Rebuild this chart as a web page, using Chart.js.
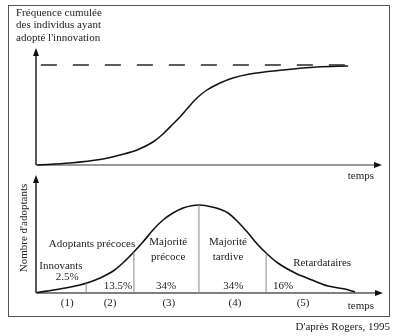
<!DOCTYPE html>
<html lang="fr">
<head>
<meta charset="utf-8">
<script src="https://cdn.jsdelivr.net/npm/chart.js@4"></script>
<style>
  body { margin: 0; background: #fff; }
  #wrap { position: relative; width: 400px; height: 336px; }
  #frame { position: absolute; left: 8px; top: 5px; width: 380px; height: 310px; border: 1.5px solid #555; }
  canvas { position: absolute; left: 0; top: 0; }
</style>
</head>
<body>
<div id="wrap">
  <div id="frame"></div>
  <canvas id="topChart" width="400" height="336"></canvas>
  <canvas id="bellChart" width="400" height="336"></canvas>
</div>
<script>
// courbe cumulée (en S)
const timeTop = [0.3, 9.8, 18.5, 24.3, 29.2, 33.8, 36.7, 39.6, 41.6, 43.6, 46.5, 49.4, 53.2, 56.9, 61.8, 71.4, 81.2, 90.2];
const cumulative = [0, 2, 5.5, 10, 15, 23, 31, 41, 48, 56, 67, 75, 82, 87, 91, 95, 98, 99];
const saturation = 100;
const saturationSpan = [1.4, 90.2];

// courbe en cloche des adoptants
const timeBell = [0.3, 6.9, 12.7, 15.6, 18.5, 22.3, 25.1, 28, 30.9, 33.8, 36.7, 39.6, 42.5, 45.4, 47.1, 50.9, 55.5, 58.4, 61.3, 64.2, 66.8, 69.9, 74.9, 79.8, 84.4, 89.3, 92.2];
const adopters = [0.5, 4, 8, 11, 15, 22, 30, 40, 51, 63, 73, 80, 85, 87.5, 88, 86, 80, 71, 60, 48, 39, 30, 20, 13, 7, 4, 1];

// limites des catégories
const dividerTimes = [14.5, 28.3, 47.1, 66.5];
const dividerHeights = [10, 41, 88, 40];

const shares = ['2.5%', '13.5%', '34%', '34%', '16%'];
const segmentNumbers = ['(1)', '(2)', '(3)', '(4)', '(5)'];

const FONT = '11px "Liberation Serif", "DejaVu Serif", serif';
const INK = '#222';

function arrowHead(ctx, x, y, dir) {
  ctx.beginPath();
  if (dir === 'up') {
    ctx.moveTo(x, y);
    ctx.lineTo(x - 3, y + 8);
    ctx.lineTo(x + 3, y + 8);
  } else {
    ctx.moveTo(x, y);
    ctx.lineTo(x - 8, y - 3);
    ctx.lineTo(x - 8, y + 3);
  }
  ctx.closePath();
  ctx.fillStyle = '#111';
  ctx.fill();
}

function drawAxes(ctx, area, yTip, xTip, xColor) {
  ctx.save();
  ctx.strokeStyle = xColor;
  ctx.lineWidth = 2;
  ctx.beginPath();
  ctx.moveTo(area.left, area.bottom);
  ctx.lineTo(xTip - 6, area.bottom);
  ctx.stroke();
  arrowHead(ctx, xTip, area.bottom, 'right');
  ctx.strokeStyle = '#222';
  ctx.lineWidth = 1.5;
  ctx.beginPath();
  ctx.moveTo(area.left, area.bottom);
  ctx.lineTo(area.left, yTip + 6);
  ctx.stroke();
  arrowHead(ctx, area.left, yTip, 'up');
  ctx.restore();
}

function text(ctx, str, x, y, align) {
  ctx.textAlign = align || 'center';
  ctx.fillText(str, x, y);
}

const hiddenScales = {
  x: { type: 'linear', min: 0, max: 100, display: false },
  y: { min: 0, max: 120, display: false }
};

const common = {
  responsive: false,
  animation: false,
  events: [],
  plugins: { legend: { display: false }, tooltip: { enabled: false } },
  scales: hiddenScales
};

const topDecor = {
  id: 'topDecor',
  beforeDatasetsDraw(chart) {
    drawAxes(chart.ctx, chart.chartArea, 48, 382, '#9a9a9a');
  },
  afterDraw(chart) {
    const ctx = chart.ctx;
    const xs = chart.scales.x;
    ctx.save();
    ctx.font = FONT;
    ctx.fillStyle = INK;
    ctx.textBaseline = 'middle';
    text(ctx, 'Fréquence cumulée', 16, 13, 'left');
    text(ctx, 'des individus ayant', 16, 25, 'left');
    text(ctx, 'adopté l\'innovation', 16, 38, 'left');
    text(ctx, 'temps', xs.getPixelForValue(93.9), 176);
    ctx.restore();
  }
};

new Chart(document.getElementById('topChart'), {
  type: 'line',
  data: {
    datasets: [
      {
        data: saturationSpan.map(t => ({ x: t, y: saturation })),
        borderColor: '#333',
        borderWidth: 1.6,
        borderDash: [16, 16],
        pointRadius: 0,
        clip: false
      },
      {
        data: timeTop.map((t, i) => ({ x: t, y: cumulative[i] })),
        borderColor: '#111',
        borderWidth: 1.5,
        cubicInterpolationMode: 'monotone',
        pointRadius: 0,
        clip: false
      }
    ]
  },
  options: Object.assign({}, common, {
    layout: { padding: { left: 36, right: 18, top: 45, bottom: 171 } }
  }),
  plugins: [topDecor]
});

const bellDecor = {
  id: 'bellDecor',
  beforeDatasetsDraw(chart) {
    drawAxes(chart.ctx, chart.chartArea, 175, 383, '#808080');
  },
  afterDraw(chart) {
    const ctx = chart.ctx;
    const xs = chart.scales.x;
    const ys = chart.scales.y;
    const at = (str, t, v) => text(ctx, str, xs.getPixelForValue(t), ys.getPixelForValue(v));
    ctx.save();
    ctx.font = FONT;
    ctx.fillStyle = INK;
    ctx.textBaseline = 'middle';

    at('Innovants', 7.2, 27);
    at('Adoptants précoces', 16.2, 49);
    at('Majorité', 38.2, 51);
    at('précoce', 38.2, 36);
    at('Majorité', 55.5, 51);
    at('tardive', 55.5, 36);
    at('Retardataires', 82.7, 30);

    const shareSpots = [[9, 16], [23.7, 7], [37.6, 7], [57, 7], [71.4, 7]];
    shares.forEach((s, i) => at(s, shareSpots[i][0], shareSpots[i][1]));

    const numberSpots = [9, 21.4, 38.4, 57.5, 77.2];
    segmentNumbers.forEach((s, i) => text(ctx, s, xs.getPixelForValue(numberSpots[i]), 303));
    text(ctx, 'temps', xs.getPixelForValue(93.9), 306);

    text(ctx, 'D\'après Rogers, 1995', 390, 327, 'right');

    ctx.translate(24, 228);
    ctx.rotate(-Math.PI / 2);
    text(ctx, 'Nombre d\'adoptants', 0, 0);
    ctx.restore();
  }
};

const dividerSets = dividerTimes.map((t, i) => ({
  data: [{ x: t, y: 0 }, { x: t, y: dividerHeights[i] }],
  borderColor: '#8a8a8a',
  borderWidth: 1,
  pointRadius: 0,
  clip: false
}));

new Chart(document.getElementById('bellChart'), {
  type: 'line',
  data: {
    datasets: dividerSets.concat([{
      data: timeBell.map((t, i) => ({ x: t, y: adopters[i] })),
      borderColor: '#111',
      borderWidth: 1.6,
      cubicInterpolationMode: 'monotone',
      pointRadius: 0,
      clip: false
    }])
  },
  options: Object.assign({}, common, {
    layout: { padding: { left: 36, right: 18, top: 173, bottom: 43 } }
  }),
  plugins: [bellDecor]
});
</script>
</body>
</html>
